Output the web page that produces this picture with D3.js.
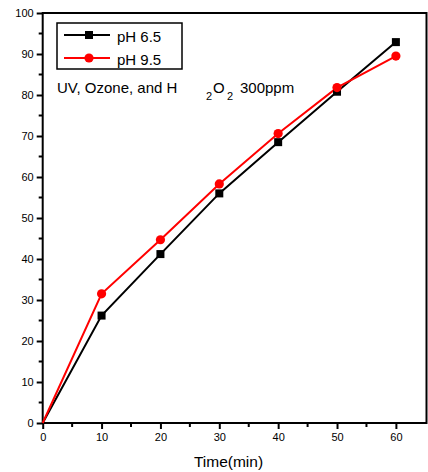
<!DOCTYPE html>
<html>
<head>
<meta charset="utf-8">
<script src="https://cdn.jsdelivr.net/npm/d3@7"></script>
<style>
  html, body { margin: 0; padding: 0; background: #fff; }
  svg { display: block; font-family: "Liberation Sans", Arial, sans-serif; }
</style>
</head>
<body>
<svg id="chart" width="428" height="472"></svg>
<script>
// Reaction time (min) and removal (%) for the two pH conditions
const times = [0, 10, 20, 30, 40, 50, 60];
const ph65 = [0, 26.2, 41.2, 56.0, 68.5, 80.8, 92.9];
const ph95 = [0, 31.5, 44.7, 58.3, 70.6, 81.8, 89.5];
const xTicks = [0, 10, 20, 30, 40, 50, 60];
const yTicks = [0, 10, 20, 30, 40, 50, 60, 70, 80, 90, 100];
const seriesNames = ["pH 6.5", "pH 9.5"];

const svg = d3.select("#chart");
const plot = { left: 42.7, right: 426.5, top: 13, bottom: 423 };

const x = d3.scaleLinear().domain([0, 65.2]).range([plot.left, plot.right]);
const y = d3.scaleLinear().domain([0, 100]).range([plot.bottom, plot.top]);

// Frame
svg.append("rect")
  .attr("x", plot.left).attr("y", plot.top)
  .attr("width", plot.right - plot.left).attr("height", plot.bottom - plot.top)
  .attr("fill", "none").attr("stroke", "#000").attr("stroke-width", 2);

// Minor ticks
const minorX = d3.range(5, 65, 10);
const minorY = d3.range(5, 100, 10);
svg.append("g").selectAll("line").data(minorX).join("line")
  .attr("x1", d => x(d)).attr("x2", d => x(d))
  .attr("y1", plot.bottom).attr("y2", plot.bottom + 4)
  .attr("stroke", "#000").attr("stroke-width", 2);
svg.append("g").selectAll("line").data(minorY).join("line")
  .attr("y1", d => y(d)).attr("y2", d => y(d))
  .attr("x1", plot.left).attr("x2", plot.left - 4)
  .attr("stroke", "#000").attr("stroke-width", 2);

// Axes
const xAxis = d3.axisBottom(x).tickValues(xTicks).tickSize(6).tickPadding(4).tickFormat(d3.format("d"));
const yAxis = d3.axisLeft(y).tickValues(yTicks).tickSize(6).tickPadding(3).tickFormat(d3.format("d"));

const gx = svg.append("g").attr("transform", `translate(0,${plot.bottom})`).call(xAxis);
const gy = svg.append("g").attr("transform", `translate(${plot.left},0)`).call(yAxis);
[gx, gy].forEach(g => {
  g.select(".domain").remove();
  g.selectAll(".tick line").attr("stroke", "#000").attr("stroke-width", 2);
  g.selectAll(".tick text").attr("fill", "#000")
    .style("font-family", "'Liberation Sans', Arial, sans-serif").style("font-size", "11px");
});

// Axis title
svg.append("text")
  .attr("x", 228.5).attr("y", 467)
  .attr("text-anchor", "middle")
  .style("font-size", "15.5px").attr("fill", "#000")
  .text("Time(min)");

// Series
const line = d3.line().x(d => x(d[0])).y(d => y(d[1]));
const s65 = times.map((t, i) => [t, ph65[i]]);
const s95 = times.map((t, i) => [t, ph95[i]]);

svg.append("path").datum(s65).attr("d", line)
  .attr("fill", "none").attr("stroke", "#000").attr("stroke-width", 2);
svg.append("path").datum(s95).attr("d", line)
  .attr("fill", "none").attr("stroke", "#ff0000").attr("stroke-width", 2);

const sq = 8;
svg.append("g").selectAll("rect").data(s65.slice(1)).join("rect")
  .attr("x", d => x(d[0]) - sq / 2).attr("y", d => y(d[1]) - sq / 2)
  .attr("width", sq).attr("height", sq).attr("fill", "#000");
svg.append("g").selectAll("circle").data(s95.slice(1)).join("circle")
  .attr("cx", d => x(d[0])).attr("cy", d => y(d[1])).attr("r", 4.6)
  .attr("fill", "#ff0000");

// Legend
const lg = svg.append("g");
lg.append("rect").attr("x", 57).attr("y", 23).attr("width", 125).attr("height", 46)
  .attr("fill", "#fff").attr("stroke", "#000").attr("stroke-width", 1.5);
const rows = [
  { name: seriesNames[0], color: "#000", shape: "square", cy: 35 },
  { name: seriesNames[1], color: "#ff0000", shape: "circle", cy: 58 }
];
rows.forEach(r => {
  lg.append("line").attr("x1", 64).attr("x2", 110).attr("y1", r.cy).attr("y2", r.cy)
    .attr("stroke", r.color).attr("stroke-width", 2);
  if (r.shape === "square") {
    lg.append("rect").attr("x", 89 - 4).attr("y", r.cy - 4).attr("width", 8).attr("height", 8).attr("fill", r.color);
  } else {
    lg.append("circle").attr("cx", 89).attr("cy", r.cy).attr("r", 4.6).attr("fill", r.color);
  }
  lg.append("text").attr("x", 117).attr("y", r.cy + 7).style("font-size", "15px").attr("fill", "#000").text(r.name);
});

// Annotation
const ann = svg.append("g").style("font-size", "15px").attr("fill", "#000");
ann.append("text").attr("x", 57).attr("y", 93).text("UV, Ozone, and H");
ann.append("text").attr("x", 206).attr("y", 100).style("font-size", "11px").text("2");
ann.append("text").attr("x", 213).attr("y", 93).text("O");
ann.append("text").attr("x", 227).attr("y", 100).style("font-size", "11px").text("2");
ann.append("text").attr("x", 240).attr("y", 93).text("300ppm");
</script>
</body>
</html>
